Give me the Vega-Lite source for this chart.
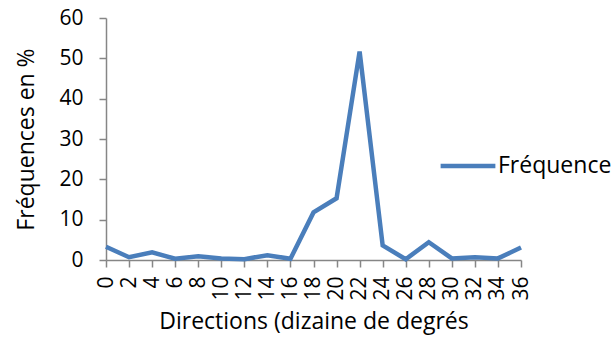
{
  "$schema": "https://vega.github.io/schema/vega-lite/v6.json",
  "width": 415,
  "height": 242,
  "autosize": {"type": "none"},
  "padding": {"left": 106, "top": 18, "right": 93, "bottom": 85},
  "background": "white",
  "config": {
    "view": {"stroke": null},
    "font": "Open Sans",
    "axis": {"grid": false, "domainColor": "#868686", "tickColor": "#868686", "labelColor": "#000000", "titleColor": "#000000", "labelFont": "Open Sans", "titleFont": "Open Sans", "labelFontSize": 21, "titleFontSize": 23, "titleFontWeight": "normal", "tickSize": 7, "domainWidth": 1.5, "tickWidth": 1.5}
  },
  "data": {
    "values": [
      {"direction": "0", "frequence": 3.3, "serie": "Fréquence"},
      {"direction": "2", "frequence": 0.7, "serie": "Fréquence"},
      {"direction": "4", "frequence": 1.9, "serie": "Fréquence"},
      {"direction": "6", "frequence": 0.3, "serie": "Fréquence"},
      {"direction": "8", "frequence": 0.9, "serie": "Fréquence"},
      {"direction": "10", "frequence": 0.4, "serie": "Fréquence"},
      {"direction": "12", "frequence": 0.2, "serie": "Fréquence"},
      {"direction": "14", "frequence": 1.2, "serie": "Fréquence"},
      {"direction": "16", "frequence": 0.3, "serie": "Fréquence"},
      {"direction": "18", "frequence": 11.8, "serie": "Fréquence"},
      {"direction": "20", "frequence": 15.3, "serie": "Fréquence"},
      {"direction": "22", "frequence": 51.7, "serie": "Fréquence"},
      {"direction": "24", "frequence": 3.6, "serie": "Fréquence"},
      {"direction": "26", "frequence": 0.2, "serie": "Fréquence"},
      {"direction": "28", "frequence": 4.4, "serie": "Fréquence"},
      {"direction": "30", "frequence": 0.4, "serie": "Fréquence"},
      {"direction": "32", "frequence": 0.7, "serie": "Fréquence"},
      {"direction": "34", "frequence": 0.4, "serie": "Fréquence"},
      {"direction": "36", "frequence": 3.1, "serie": "Fréquence"}
    ]
  },
  "mark": {"type": "line", "strokeWidth": 4.5, "strokeJoin": "miter", "strokeCap": "butt"},
  "encoding": {
    "x": {
      "field": "direction", "type": "ordinal", "sort": null,
      "scale": {"type": "point", "padding": 0},
      "axis": {"title": "Directions (dizaine de degrés", "labelAngle": -90, "labelPadding": 9, "titlePadding": 10}
    },
    "y": {
      "field": "frequence", "type": "quantitative",
      "scale": {"domain": [0, 60], "nice": false},
      "axis": {"title": "Fréquences en %", "values": [0, 10, 20, 30, 40, 50, 60], "labelPadding": 16, "titlePadding": 20}
    },
    "color": {
      "field": "serie", "type": "nominal",
      "scale": {"range": ["#4A7EBB"]},
      "legend": {"title": null, "orient": "none", "legendX": 332, "legendY": 118, "symbolType": "stroke", "symbolSize": 3000, "symbolStrokeWidth": 4.5, "labelFontSize": 23, "labelFont": "Open Sans", "labelColor": "#000000", "labelOffset": 0}
    }
  }
}
